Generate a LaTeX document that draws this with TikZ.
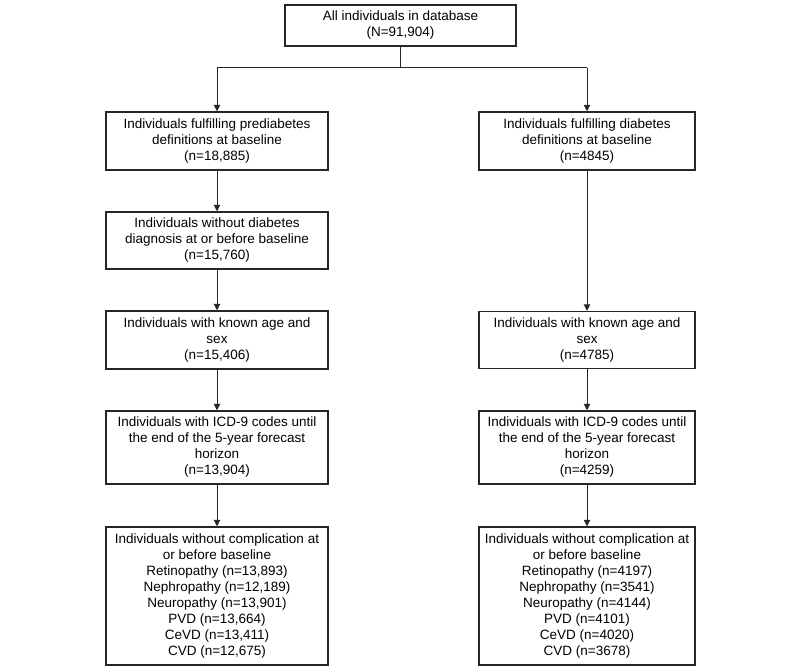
\documentclass[tikz,border=0pt]{standalone}
\usepackage{fontspec}
\setmainfont{Liberation Sans}
\usetikzlibrary{arrows.meta}
\begin{document}
\begin{tikzpicture}[x=1pt,y=-1pt,
  box/.style={draw=black!85,line width=1.5pt,inner sep=0pt,align=center,
    font=\fontsize{13.5}{16}\selectfont,text=black},
  conn/.style={draw=black!85,line width=1pt},
  arr/.style={conn,-{Triangle[width=6.5pt,length=6.5pt]}}]
\useasboundingbox (0,0) rectangle (800,669);
\node[box,minimum width=231pt,minimum height=41pt] (top) at (400.5,25.5) {All individuals in database\\(N=91,904)};
\node[box,minimum width=222pt,minimum height=58pt] (L1) at (217,141) {Individuals fulfilling prediabetes\\definitions at baseline\\(n=18,885)};
\node[box,minimum width=222pt,minimum height=57pt] (L2) at (217,240.5) {Individuals without diabetes\\diagnosis at or before baseline\\(n=15,760)};
\node[box,minimum width=222pt,minimum height=58pt] (L3) at (217,340) {Individuals with known age and\\sex\\(n=15,406)};
\node[box,minimum width=222pt,minimum height=73pt] (L4) at (217,447.5) {Individuals with ICD-9 codes until\\the end of the 5-year forecast\\horizon\\(n=13,904)};
\node[box,minimum width=222pt,minimum height=138pt] (L5) at (217,596) {Individuals without complication at\\or before baseline\\Retinopathy (n=13,893)\\Nephropathy (n=12,189)\\Neuropathy (n=13,901)\\PVD (n=13,664)\\CeVD (n=13,411)\\CVD (n=12,675)};
\node[box,minimum width=216pt,minimum height=58pt] (R1) at (587,141) {Individuals fulfilling diabetes\\definitions at baseline\\(n=4845)};
\node[box,minimum width=216pt,minimum height=57pt] (R3) at (587,340) {Individuals with known age and\\sex\\(n=4785)};
\node[box,minimum width=216pt,minimum height=73pt] (R4) at (587,447.5) {Individuals with ICD-9 codes until\\the end of the 5-year forecast\\horizon\\(n=4259)};
\node[box,minimum width=216pt,minimum height=138pt] (R5) at (587,596) {Individuals without complication at\\or before baseline\\Retinopathy (n=4197)\\Nephropathy (n=3541)\\Neuropathy (n=4144)\\PVD (n=4101)\\CeVD (n=4020)\\CVD (n=3678)};
\coordinate (jl) at (217,68);
\coordinate (jr) at (587,68);
\coordinate (jm) at (400.5,68);
\draw[conn] (top.south) -- (jm);
\draw[conn] (jl) -- (jr);
\draw[arr] (jl) -- (L1.north);
\draw[arr] (jr) -- (R1.north);
\draw[arr] (L1) -- (L2);
\draw[arr] (L2) -- (L3);
\draw[arr] (L3) -- (L4);
\draw[arr] (L4) -- (L5);
\draw[arr] (R1) -- (R3);
\draw[arr] (R3) -- (R4);
\draw[arr] (R4) -- (R5);
\end{tikzpicture}
\end{document}
